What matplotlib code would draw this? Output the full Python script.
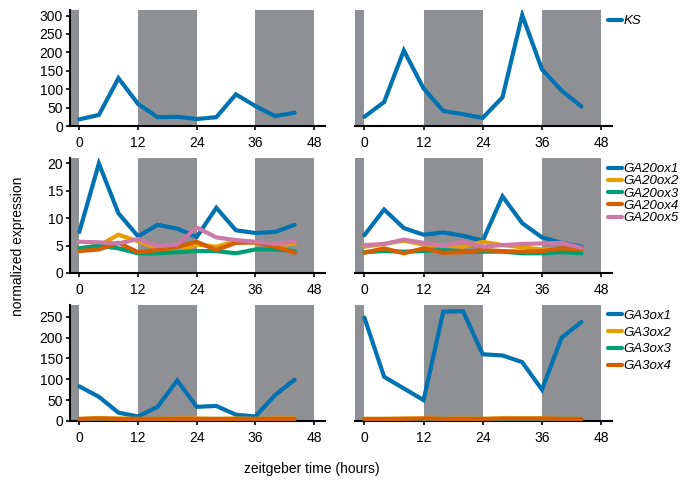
import matplotlib
matplotlib.use("Agg")
import matplotlib.pyplot as plt
import numpy as np

plt.rcParams['font.family'] = ['Liberation Sans', 'DejaVu Sans']
plt.rcParams['font.size'] = 10

# zeitgeber time points
zt = [0, 4, 8, 12, 16, 20, 24, 28, 32, 36, 40, 44]

# row 1: KS
ks_left = [18, 30, 130, 60, 24, 25, 19, 24, 86, 54, 27, 36]
ks_right = [25, 65, 205, 102, 41, 32, 22, 78, 301, 154, 96, 53]

# row 2: GA20 oxidases
ga20_names = ["GA20ox1", "GA20ox2", "GA20ox3", "GA20ox4", "GA20ox5"]
ga20_left = [
    [7.5, 20.0, 10.9, 6.7, 8.8, 8.1, 6.6, 11.9, 7.8, 7.3, 7.5, 8.8],
    [4.5, 5.0, 7.0, 5.8, 4.5, 3.8, 5.2, 4.8, 5.8, 5.5, 5.0, 5.4],
    [4.5, 5.0, 4.5, 3.6, 3.6, 3.8, 4.0, 4.0, 3.6, 4.3, 4.3, 4.0],
    [4.0, 4.3, 5.5, 3.8, 4.2, 4.8, 5.7, 4.2, 5.5, 5.6, 4.8, 3.7],
    [5.7, 5.6, 5.4, 6.2, 4.9, 5.2, 8.3, 6.5, 6.0, 5.7, 5.3, 5.8],
]
ga20_right = [
    [6.9, 11.6, 8.2, 7.0, 7.4, 6.8, 5.9, 14.0, 9.1, 6.5, 5.5, 4.8],
    [4.8, 5.3, 5.9, 5.2, 5.1, 4.8, 5.7, 5.1, 4.7, 4.3, 4.4, 4.4],
    [3.8, 4.0, 3.9, 4.0, 4.2, 3.9, 3.9, 3.9, 3.6, 3.6, 3.8, 3.6],
    [3.7, 4.5, 3.6, 4.5, 3.7, 3.8, 4.2, 4.0, 3.9, 4.0, 4.5, 4.3],
    [5.1, 5.3, 6.1, 5.5, 5.0, 5.7, 4.8, 5.1, 5.3, 5.4, 5.5, 4.6],
]

# row 3: GA3 oxidases
ga3_names = ["GA3ox1", "GA3ox2", "GA3ox3", "GA3ox4"]
ga3_left = [
    [83, 58, 20, 11, 34, 97, 34, 36, 15, 11, 62, 99],
    [5, 7, 6, 5, 5, 6, 6, 5, 6, 5, 6, 6],
    [3, 4, 4, 3, 3, 4, 4, 3, 4, 3, 4, 4],
    [5, 6, 5, 5, 5, 5, 5, 5, 5, 5, 5, 5],
]
ga3_right = [
    [248, 106, 78, 50, 262, 263, 160, 157, 141, 75, 200, 237],
    [5, 5, 6, 6, 5, 6, 5, 6, 6, 6, 5, 5],
    [3, 3, 4, 4, 3, 4, 3, 4, 4, 4, 3, 3],
    [5, 5, 5, 6, 5, 5, 5, 6, 6, 6, 5, 5],
]

colors = ["#0072B2", "#E69F00", "#009E73", "#D55E00", "#CC79A7"]
shade = "#8e9093"

W, H = 682, 483
fig = plt.figure(figsize=(W / 100, H / 100), dpi=100)

# (top px, bottom px, ymax, yticks, legend top px, legend spacing)
rows = [(10, 126, 315, [0, 50, 100, 150, 200, 250, 300], 15, 0.0),
        (158, 273, 21, [0, 5, 10, 15, 20], 163, 0.0),
        (305, 421, 278, [0, 50, 100, 150, 200, 250], 309.5, 0.35)]
cols = [(70, 325), (355, 612)]

data = [
    (["KS"], [ks_left], [ks_right]),
    (ga20_names, ga20_left, ga20_right),
    (ga3_names, ga3_left, ga3_right),
]

for r, (top, bot, ymax, yt, legtop, lsp) in enumerate(rows):
    names, left_series, right_series = data[r]
    for c, (x0, x1) in enumerate(cols):
        ax = fig.add_axes([x0 / W, 1 - bot / H, (x1 - x0) / W, (bot - top) / H])
        series = left_series if c == 0 else right_series
        for span in [(-3, 0), (12, 24), (36, 48)]:
            ax.axvspan(span[0], span[1], color=shade, lw=0, zorder=0)
        for i, ys in enumerate(series):
            ax.plot(zt, ys, color=colors[i], lw=3, label=names[i],
                    solid_capstyle="round", solid_joinstyle="miter", zorder=3)
        ax.set_xlim(-1.9, 50.2)
        ax.set_ylim(0, ymax)
        ax.set_xticks([0, 12, 24, 36, 48])
        ax.spines["top"].set_visible(False)
        ax.spines["right"].set_visible(False)
        ax.spines["bottom"].set_linewidth(1.5)
        ax.tick_params(axis="x", length=3, width=1.2, pad=4, labelsize=10)
        if c == 0:
            ax.set_yticks(yt)
            ax.spines["left"].set_linewidth(1.5)
            ax.tick_params(axis="y", length=3, width=1.2, pad=2, labelsize=10)
        else:
            ax.spines["left"].set_visible(False)
            ax.set_yticks([])
            leg = ax.legend(loc="upper left", bbox_to_anchor=(608 / W, 1 - legtop / H),
                            bbox_transform=fig.transFigure, frameon=False,
                            handlelength=1.05, handletextpad=0.15, labelspacing=lsp,
                            borderaxespad=0, borderpad=0,
                            prop={"style": "italic", "size": 9.5})

fig.text(18 / W, 1 - 246 / H, "normalized expression", rotation=90,
         ha="center", va="center", fontsize=10)
fig.text(312 / W, 1 - 469 / H, "zeitgeber time (hours)",
         ha="center", va="center", fontsize=10)

fig.savefig("out.png", dpi=100)
